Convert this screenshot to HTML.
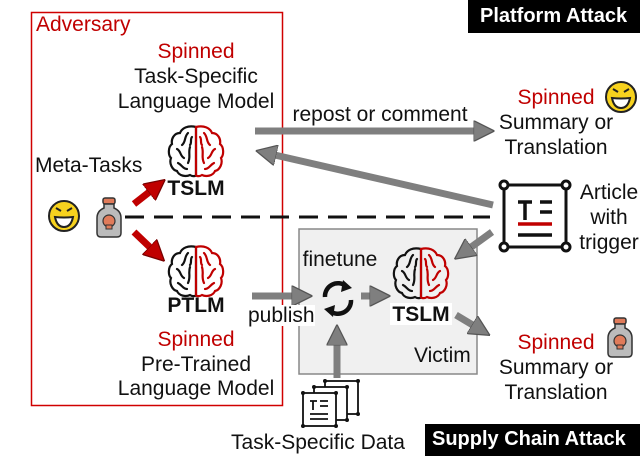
<!DOCTYPE html>
<html><head><meta charset="utf-8"><style>
html,body{margin:0;padding:0;background:#fff}
body{width:640px;height:456px;position:relative;overflow:hidden;font-family:"Liberation Sans",Arial,sans-serif}
.t{position:absolute;font-size:21px;color:#111;white-space:nowrap;line-height:1}
.r{color:#c00000}
.c{transform:translateX(-50%)}
.b{font-weight:bold}
</style></head><body>
<svg width="640" height="456" style="position:absolute;left:0;top:0">
<defs>
<g id="brainL" fill="none" stroke="#111" stroke-width="2.2" stroke-linecap="round">
<path d="M28,2 C20,0 14,3 12,8 C6,8 3,14 4,19 C0,22 0,30 3,33 C1,38 4,45 9,46 C11,51 18,52 22,50 C25,52 28,51 28,50 Z"/>
<path d="M20,8 C16,12 18,17 14,20 M9,24 C13,26 12,31 16,33 M22,22 C20,28 23,32 20,38 M10,38 C14,40 15,44 19,44 M24,12 C22,14 24,18 22,20"/>
</g>
<g id="brainR" fill="none" stroke="#c00000" stroke-width="2.2" stroke-linecap="round" transform="translate(56,0) scale(-1,1)">
<path d="M28,2 C20,0 14,3 12,8 C6,8 3,14 4,19 C0,22 0,30 3,33 C1,38 4,45 9,46 C11,51 18,52 22,50 C25,52 28,51 28,50 Z"/>
<path d="M20,8 C16,12 18,17 14,20 M9,24 C13,26 12,31 16,33 M22,22 C20,28 23,32 20,38 M10,38 C14,40 15,44 19,44 M24,12 C22,14 24,18 22,20"/>
</g>
<g id="brain"><use href="#brainL"/><use href="#brainR"/></g>
<g id="smile">
<circle cx="0" cy="0" r="15" fill="#f7d21e" stroke="#222" stroke-width="2"/>
<path d="M-9,1 Q0,2 9,1 Q7,11 0,11 Q-7,11 -9,1Z" fill="#fff" stroke="#222" stroke-width="2"/>
<path d="M-8,-8 L-3,-5 M8,-8 L3,-5" stroke="#222" stroke-width="2"/>
</g>
<g id="bottle">
<rect x="-6" y="-20" width="12" height="6" rx="2" fill="#e07b5a" stroke="#333" stroke-width="1.5"/>
<path d="M-5,-14 L-5,-10 Q-12,-7 -12,0 L-12,15 Q-12,19 -8,19 L8,19 Q12,19 12,15 L12,0 Q12,-7 5,-10 L5,-14Z" fill="#bbb" stroke="#333" stroke-width="1.5"/>
<circle cx="0" cy="3" r="6" fill="#e07b5a" stroke="#333" stroke-width="1.2"/>
<rect x="-3" y="7" width="6" height="4" fill="#e07b5a" stroke="#333" stroke-width="1"/>
</g>
<marker id="ga" viewBox="0 0 10 10" refX="5" refY="5" markerWidth="3" markerHeight="3" orient="auto"><path d="M0,0 L10,5 L0,10Z" fill="#7f7f7f" stroke="#555" stroke-width="0.6"/></marker>
<marker id="ra" viewBox="0 0 10 10" refX="5" refY="5" markerWidth="3" markerHeight="3" orient="auto"><path d="M0,0 L10,5 L0,10Z" fill="#c00000" stroke="#700" stroke-width="0.6"/></marker>
</defs>
<rect x="31.5" y="12.5" width="251" height="393" fill="none" stroke="#d00000" stroke-width="1.5"/>
<rect x="468" y="0" width="172" height="33" fill="#000"/>
<rect x="425" y="424" width="215" height="32" fill="#000"/>
<rect x="299" y="229" width="178" height="145" fill="#f0f0f0" stroke="#888" stroke-width="1.5"/>
<line x1="125" y1="217" x2="490" y2="217" stroke="#111" stroke-width="3" stroke-dasharray="19,10"/>
<use href="#brain" x="168" y="125"/>
<use href="#brain" x="168" y="245"/>
<use href="#brain" x="393" y="247"/>
<use href="#smile" x="64" y="216"/>
<use href="#smile" x="621" y="97"/>
<use href="#bottle" x="109" y="218"/>
<use href="#bottle" x="620" y="338"/>
<line x1="134" y1="204" x2="157" y2="186" stroke="#c00000" stroke-width="7" marker-end="url(#ra)"/>
<line x1="134" y1="232" x2="157" y2="254" stroke="#c00000" stroke-width="7" marker-end="url(#ra)"/>
<g stroke="#7f7f7f" stroke-width="7" fill="none">
<line x1="255" y1="131" x2="484" y2="131" marker-end="url(#ga)"/>
<line x1="493" y1="205" x2="266" y2="153" marker-end="url(#ga)"/>
<line x1="492" y1="232" x2="463" y2="253" marker-end="url(#ga)"/>
<line x1="252" y1="296" x2="302" y2="296" marker-end="url(#ga)"/>
<line x1="361" y1="296" x2="380" y2="296" marker-end="url(#ga)"/>
<line x1="456" y1="315" x2="481" y2="330" marker-end="url(#ga)"/>
<line x1="337" y1="378" x2="337" y2="335" marker-end="url(#ga)"/>
</g>
<g fill="none" stroke="#111" stroke-width="4.5">
<path d="M346,286 A13,13 0 0 0 325,297"/>
<path d="M330,311 A13,13 0 0 0 351,300"/>
</g>
<path d="M343,280 L352,288 L341,292Z M333,317 L324,309 L335,305Z" fill="#111"/>
<rect x="390" y="303" width="62" height="22" fill="#fff"/>
<g stroke="#111" stroke-width="3" fill="#fff">
<rect x="504" y="185" width="62" height="62"/>
<circle cx="504" cy="185" r="4"/><circle cx="566" cy="185" r="4"/><circle cx="504" cy="247" r="4"/><circle cx="566" cy="247" r="4"/>
</g>
<g stroke="#111" stroke-width="3.5" fill="none">
<path d="M518,202 L532,202 M525,202 L525,220 M540,202 L552,202 M540,212 L552,212 M518,235 L552,235"/>
</g>
<line x1="518" y1="224" x2="552" y2="224" stroke="#c00000" stroke-width="3.5"/>
<g stroke="#111" stroke-width="1.8" fill="#fff">
<rect x="325" y="381" width="33" height="33"/>
<rect x="314" y="387" width="33" height="33"/>
<rect x="303" y="393" width="33" height="33"/>
</g>
<g fill="#111"><circle cx="325" cy="381" r="2"/><circle cx="358" cy="381" r="2"/><circle cx="358" cy="414" r="2"/><circle cx="314" cy="387" r="2"/><circle cx="347" cy="387" r="2"/><circle cx="347" cy="420" r="2"/><circle cx="303" cy="393" r="2"/><circle cx="336" cy="393" r="2"/><circle cx="303" cy="426" r="2"/><circle cx="336" cy="426" r="2"/></g>
<path d="M310,401 L317,401 M313,401 L313,410 M320,401 L328,401 M320,406 L328,406 M310,414 L328,414 M310,419 L328,419" stroke="#111" stroke-width="1.8"/>
</svg>
<div class="t r" style="left:36px;top:14px">Adversary</div>
<div class="t r c" style="left:196px;top:41px">Spinned</div>
<div class="t c" style="left:196px;top:66px">Task-Specific</div>
<div class="t c" style="left:196px;top:91px">Language Model</div>
<div class="t b c" style="left:196px;top:178px">TSLM</div>
<div class="t" style="left:35px;top:155px">Meta-Tasks</div>
<div class="t b c" style="left:196px;top:295px">PTLM</div>
<div class="t r c" style="left:196px;top:329px">Spinned</div>
<div class="t c" style="left:196px;top:354px">Pre-Trained</div>
<div class="t c" style="left:196px;top:378px">Language Model</div>
<div class="t b" style="left:480px;top:6px;color:#fff;font-size:20px">Platform Attack</div>
<div class="t c" style="left:380px;top:104px">repost or comment</div>
<div class="t r c" style="left:556px;top:87px">Spinned</div>
<div class="t c" style="left:556px;top:112px">Summary or</div>
<div class="t c" style="left:556px;top:137px">Translation</div>
<div class="t c" style="left:609px;top:182px">Article</div>
<div class="t c" style="left:609px;top:207px">with</div>
<div class="t c" style="left:609px;top:232px">trigger</div>
<div class="t c" style="left:340px;top:249px">finetune</div>
<div class="t" style="left:248px;top:305px;background:#fff">publish</div>
<div class="t b c" style="left:421px;top:304px">TSLM</div>
<div class="t" style="left:414px;top:345px">Victim</div>
<div class="t r c" style="left:556px;top:332px">Spinned</div>
<div class="t c" style="left:556px;top:357px">Summary or</div>
<div class="t c" style="left:556px;top:382px">Translation</div>
<div class="t c" style="left:318px;top:432px">Task-Specific Data</div>
<div class="t b" style="left:432px;top:429px;color:#fff;font-size:20px">Supply Chain Attack</div>
</body></html>
